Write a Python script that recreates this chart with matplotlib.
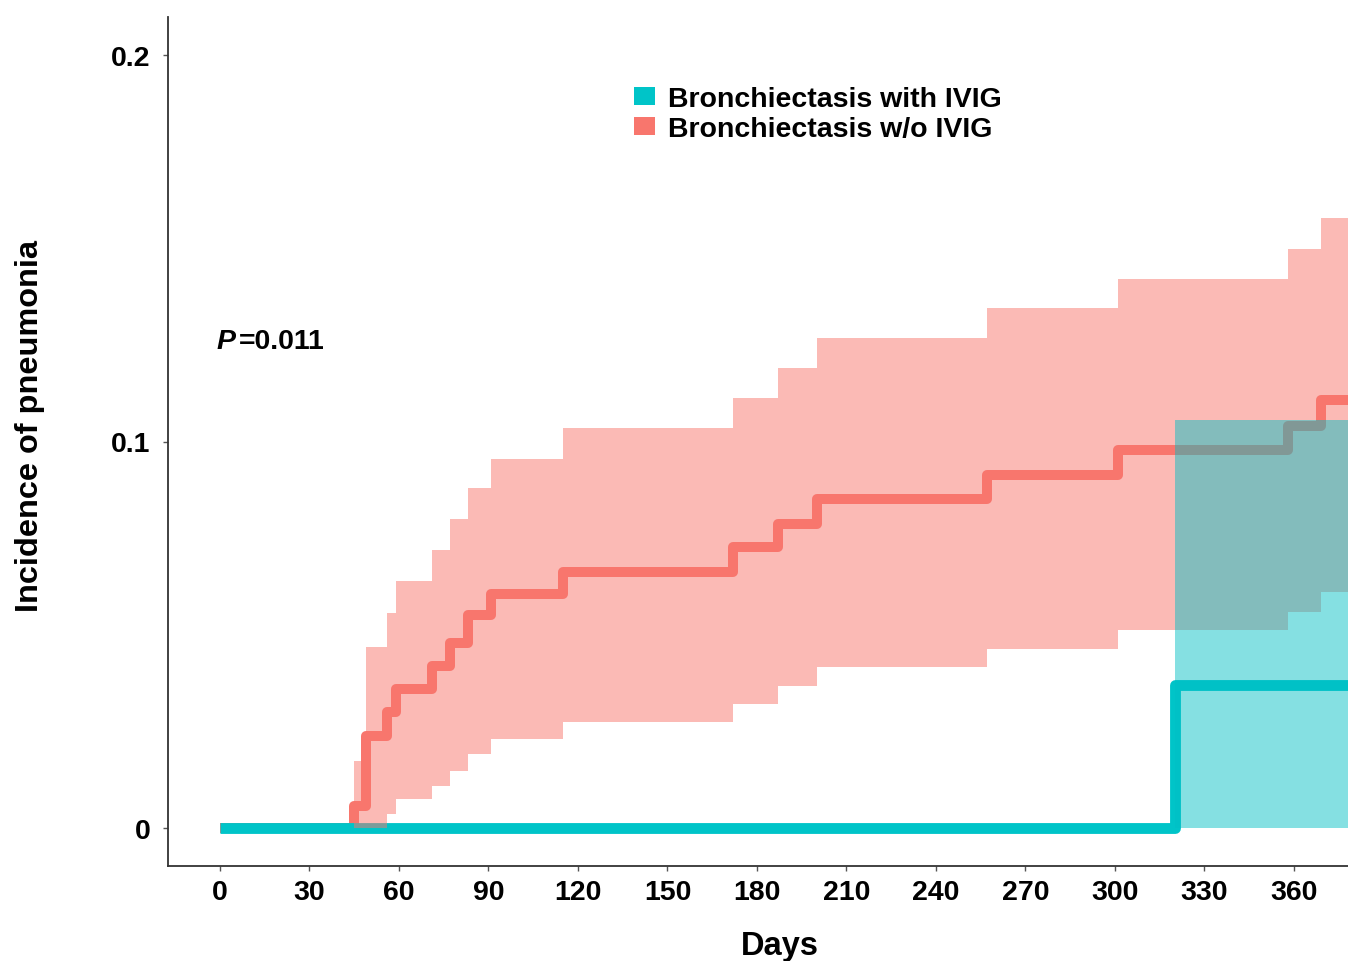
import numpy as np
import matplotlib.pyplot as plt
from matplotlib.patches import Patch

plt.rcParams['font.family'] = ['Liberation Sans', 'DejaVu Sans']
plt.rcParams['font.weight'] = 'bold'

# Bronchiectasis with IVIG (step-post curve + confidence band)
days_ivig = [0, 320, 380]
inc_ivig = [0, 0.037, 0.037]
low_ivig = [0, 0, 0]
up_ivig = [0, 0.1056, 0.1056]

# Bronchiectasis w/o IVIG
days_no = [0, 45, 49, 56, 59, 71, 77, 83, 91, 115, 172, 187, 200, 257, 301, 358, 369, 380]
inc_no = [0, 0.0057, 0.0238, 0.030, 0.036, 0.042, 0.048, 0.055, 0.0605, 0.0662,
          0.0727, 0.0786, 0.085, 0.0913, 0.0978, 0.104, 0.1107, 0.1107]
low_no = [0, 0, 0, 0.0036, 0.0075, 0.011, 0.0148, 0.0191, 0.023, 0.0274,
          0.032, 0.0367, 0.0417, 0.0463, 0.0512, 0.0559, 0.061, 0.061]
up_no = [0, 0.0173, 0.0468, 0.0556, 0.0639, 0.072, 0.080, 0.088, 0.0955, 0.1035,
         0.1113, 0.119, 0.1268, 0.1345, 0.142, 0.1498, 0.1578, 0.1578]

x_ticks = list(range(0, 361, 30))
y_ticks = [0, 0.1, 0.2]
y_ticklabels = ['0', '0.1', '0.2']

teal = '#00C4C8'
red = '#F8766D'

fig = plt.figure(figsize=(13.48, 9.62), dpi=100)
ax = fig.add_axes([168 / 1348, 1 - 867 / 962, 1 - 168 / 1348, (867 - 18) / 962])

# lines first, ribbons on top (as in the original)
ax.step(days_no, inc_no, where='post', color=red, lw=7.2,
        solid_joinstyle='round', solid_capstyle='butt', zorder=2)
ax.step(days_ivig, inc_ivig, where='post', color=teal, lw=7.8,
        solid_joinstyle='round', solid_capstyle='butt', zorder=2.1)
ax.fill_between(days_no, low_no, up_no, step='post', color=red, alpha=0.5, lw=0, zorder=3)
ax.fill_between(days_ivig, low_ivig, up_ivig, step='post', color='#00BFC4', alpha=0.48, lw=0, zorder=3.1)

ax.set_xlim(-17.4, 378.1)
ax.set_ylim(-0.0098, 0.2098)
ax.set_xticks(x_ticks)
ax.set_yticks(y_ticks)
ax.set_yticklabels(y_ticklabels)
ax.tick_params(axis='both', labelsize=20.5, length=3.6, width=1, color='#555555')
ax.tick_params(axis='x', pad=6)
ax.tick_params(axis='y', pad=9)
for s in ['top', 'right']:
    ax.spines[s].set_visible(False)
for s in ['left', 'bottom']:
    ax.spines[s].set_color('#333333')
    ax.spines[s].set_linewidth(1.3)

fig.text(780 / 1348, 1 - 947 / 962, 'Days', fontsize=23.5, fontweight='bold',
         ha='center', va='center')
fig.text(30 / 1348, 1 - 426 / 962, 'Incidence of pneumonia', fontsize=23.4,
         fontweight='bold', rotation=90, ha='center', va='center')

# P value annotation
ax.text(-1, 0.126, 'P', fontsize=20.5, fontweight='bold', fontstyle='italic',
        ha='left', va='center')
ax.annotate('=0.011', xy=(-1, 0.126), xytext=(15.5, 0), textcoords='offset points',
            fontsize=20.5, fontweight='bold', ha='left', va='center')

handles = [Patch(facecolor=teal, edgecolor='none'),
           Patch(facecolor=red, edgecolor='none')]
labels = ['Bronchiectasis with IVIG', 'Bronchiectasis w/o IVIG']
fig.legend(handles, labels, loc='upper left', bbox_to_anchor=(634 / 1348, 1 - 87 / 962),
           frameon=False, fontsize=20.5, borderpad=0, borderaxespad=0,
           handlelength=0.75, handleheight=0.6, handletextpad=0.45, labelspacing=0.14)

fig.savefig('out.png', dpi=100)
